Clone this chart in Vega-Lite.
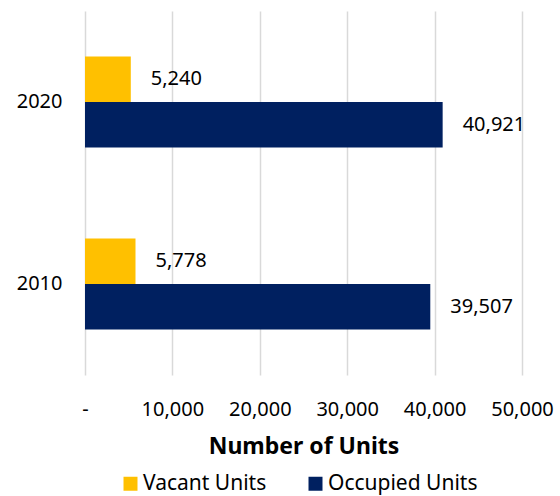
{
  "$schema": "https://vega.github.io/schema/vega-lite/v6.json",
  "width": 437,
  "height": 364,
  "autosize": "none",
  "padding": {"left": 85, "top": 11, "right": 38, "bottom": 121},
  "background": "white",
  "config": {"view": {"stroke": null}, "font": "Noto Sans"},
  "data": {"values": [
    {"year": "2020", "type": "Vacant Units", "units": 5240},
    {"year": "2020", "type": "Occupied Units", "units": 40921},
    {"year": "2010", "type": "Vacant Units", "units": 5778},
    {"year": "2010", "type": "Occupied Units", "units": 39507}
  ]},
  "encoding": {
    "y": {"field": "year", "type": "nominal", "sort": ["2020", "2010"],
      "scale": {"paddingInner": 0, "paddingOuter": 0},
      "axis": {"title": null, "ticks": false, "domain": false, "labelPadding": 23, "labelFontSize": 20, "labelColor": "#000"}},
    "yOffset": {"field": "type", "type": "nominal", "sort": ["Vacant Units", "Occupied Units"],
      "scale": {"paddingInner": 0, "paddingOuter": 1.068}},
    "x": {"field": "units", "type": "quantitative",
      "scale": {"domain": [0, 50000], "nice": false},
      "axis": {"title": "Number of Units", "values": [0, 10000, 20000, 30000, 40000, 50000],
        "labelExpr": "datum.value == 0 ? '-' : format(datum.value, ',')",
        "labelOverlap": false, "labelBound": false, "labelFlush": false,
        "ticks": false, "domain": false, "labelPadding": 24, "labelFontSize": 20, "labelColor": "#000",
        "gridColor": "#d9d9d9", "gridWidth": 1.5,
        "titleFontSize": 23, "titleFontWeight": "bold", "titleColor": "#000", "titlePadding": 16}}
  },
  "layer": [
    {"mark": {"type": "bar"},
     "encoding": {"color": {"field": "type", "type": "nominal",
        "scale": {"domain": ["Vacant Units", "Occupied Units"], "range": ["#FFC000", "#002060"]},
        "legend": {"title": null, "orient": "none", "direction": "horizontal", "legendX": 35, "legendY": 462,
          "symbolType": "square", "symbolSize": 196, "symbolStrokeWidth": 0, "labelFontSize": 21, "labelColor": "#000",
          "labelOffset": 2, "columnPadding": 38, "symbolOpacity": 1, "labelLimit": 300}}}},
    {"mark": {"type": "text", "align": "left", "baseline": "middle", "dx": 20, "fontSize": 20, "color": "#000"},
     "encoding": {"text": {"field": "units", "type": "quantitative", "format": ","}}}
  ]
}
